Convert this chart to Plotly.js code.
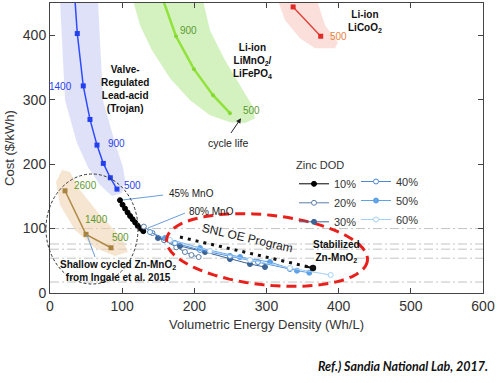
<!DOCTYPE html>
<html>
<head>
<meta charset="utf-8">
<script src="https://cdn.plot.ly/plotly-3.0.1.min.js"></script>
<style>html,body{margin:0;padding:0;background:#fff;}#chart{width:500px;height:383px;}</style>
</head>
<body>
<div id="chart"></div>
<script>
// ---------- data ----------
// Valve-regulated lead-acid (Trojan)
const leadX = [34.6, 37.8, 46.1, 55.4, 65.1, 73.9, 83.6, 92.8];
const leadY = [455, 402.6, 321.4, 269.3, 229.5, 201.1, 178.8, 161.2];
// Li-ion LiMnO2 / LiFePO4
const limnX = [156.6, 174.6, 199.5, 225.9, 249.4];
const limnY = [455, 398.4, 347.3, 307, 279];
// Li-ion LiCoO2
const licoX = [336.9, 375.1];
const licoY = [443.9, 398.4];
// Shallow cycled Zn-MnO2 (Ingale et al. 2015)
const shallowX = [20.8, 49.9, 84.5];
const shallowY = [158.6, 91, 70.2];
// Zinc DOD series
const dodNames = ['10%', '20%', '30%', '40%', '50%', '60%'];
const dod10X = [97, 100.5, 104, 107.5, 111, 114.5, 118, 121.5, 125.5, 129.3];
const dod10Y = [144, 137, 131, 125, 119.5, 114.5, 109.5, 104.5, 100, 96];
const dod20X = [130, 142, 158, 175, 187, 196, 206];
const dod20Y = [103, 93, 82, 71, 63.6, 59, 55.8];
const dod30X = [149.6, 180.1, 214.8, 249.4, 277.1, 297.9];
const dod30Y = [85.3, 72.9, 63.6, 52.7, 45, 40.3];
const dod40X = [138.6, 173.2, 207.8, 249.4, 288.2, 332.5];
const dod40Y = [94.6, 77.5, 66.7, 57.4, 48, 37.2];
const dod50X = [159.3, 207.8, 263.3, 304.8, 342.2, 359.3];
const dod50Y = [85.3, 69.8, 55.8, 48, 34.6, 31.5];
const dod60X = [166.3, 221.7, 277.1, 332.5, 388.9];
const dod60Y = [82.2, 65.1, 51.2, 38.8, 27.9];
// shaded cycle-life bands
const leadBandX = [13.9, 20.8, 37.4, 52.6, 69.3, 85.9, 99.8, 103.9, 101.2, 90.1, 73.4, 66.5];
const leadBandY = [454, 299.2, 232.6, 195.3, 167.4, 150.4, 155, 175.2, 195.3, 232.6, 299.2, 454];
const limnBandX = [115, 124.7, 141.3, 166.3, 194, 221.7, 249.4, 270.2, 284.1, 279.9, 263.3, 242.5, 221.7, 212];
const limnBandY = [454, 415.5, 376.7, 333.3, 299.2, 276, 265.1, 263.6, 271.3, 291.5, 322.5, 361.2, 407.8, 454];
const licoBandX = [315.9, 325.6, 346.4, 367.2, 394.9, 399, 381, 370];
const licoBandY = [454, 423.3, 395.3, 379.8, 379.8, 389.1, 415.5, 454];
const shallowBandX = [16.6, 8.3, 13.9, 34.6, 62.4, 90.1, 108.1, 99.8, 69.3, 41.6, 27.7];
const shallowBandY = [190.7, 172.1, 136.4, 97.7, 69.8, 57.4, 63.6, 85.3, 120.9, 159.7, 187.6];
// reference cost levels (gray dash-dot lines)
const refLevels = [100, 76, 68, 54, 17];
// leader lines
const lead45X = [156.6, 99.8], lead45Y = [151.9, 144.2];
const lead80X = [187.1, 135.8], lead80Y = [124, 100.8];
const leadShX = [62.4, 51.3], leadShY = [55.8, 89.9];
// SNL OE program trend arrow
const trendX = [180.1, 362], trendY = [86.8, 39.5];
// axis ticks
const xTicks = [0, 100, 200, 300, 400, 500, 600];
const yTicks = [0, 100, 200, 300, 400];

// ---------- geometry helpers ----------
const X_RANGE = [0, 600], Y_RANGE = [0, 450];
const M = {l: 50, r: 17, t: 3, b: 90};
const PW = 500 - M.l - M.r, PH = 383 - M.t - M.b;
function pxToData(px, py) {
  return [X_RANGE[0] + (px - M.l) / PW * (X_RANGE[1] - X_RANGE[0]),
          Y_RANGE[0] + (M.t + PH - py) / PH * (Y_RANGE[1] - Y_RANGE[0])];
}
function ellipsePath(cx, cy, a, b, deg) {
  const th = deg * Math.PI / 180; let d = '';
  for (let i = 0; i <= 72; i++) {
    const t = i / 72 * 2 * Math.PI;
    const px = cx + a * Math.cos(t) * Math.cos(th) - b * Math.sin(t) * Math.sin(th);
    const py = cy + a * Math.cos(t) * Math.sin(th) + b * Math.sin(t) * Math.cos(th);
    const p = pxToData(px, py);
    d += (i === 0 ? 'M' : 'L') + p[0].toFixed(2) + ',' + p[1].toFixed(2);
  }
  return d + 'Z';
}

const FONT = 'Liberation Sans, Arial, sans-serif';
const traces = [];
function band(x, y, color) {
  traces.push({x, y, type: 'scatter', mode: 'lines', fill: 'toself', fillcolor: color,
    line: {width: 0}, hoverinfo: 'skip', showlegend: false});
}
band(leadBandX, leadBandY, 'rgba(160,170,235,0.35)');
band(limnBandX, limnBandY, 'rgba(175,232,140,0.55)');
band(licoBandX, licoBandY, 'rgba(245,185,175,0.45)');
band(shallowBandX, shallowBandY, 'rgba(240,212,178,0.6)');

function line(x, y, color, width, opts) {
  traces.push(Object.assign({x, y, type: 'scatter', mode: 'lines', line: {color, width},
    hoverinfo: 'skip', showlegend: false}, opts || {}));
}
line(leadX, leadY, '#2f4bff', 1.5, {mode: 'lines+markers', marker: {symbol: 'square', size: 5, color: '#2340f0'}});
line(limnX, limnY, '#92e23c', 2.5, {mode: 'lines+markers', marker: {symbol: 'circle', size: 4, color: '#86d832'}});
line(licoX, licoY, '#e23a32', 1.3, {mode: 'lines+markers', marker: {symbol: 'square', size: 5, color: '#e02a28'}});
line(shallowX, shallowY, '#b08a48', 1.5, {mode: 'lines+markers', marker: {symbol: 'square', size: 5, color: '#a8843f'}});
line(lead45X, lead45Y, '#6a9ddc', 1);
line(lead80X, lead80Y, '#6a9ddc', 1);
line(leadShX, leadShY, '#6a9ddc', 1);
line(trendX, trendY, '#111', 3, {line: {color: '#111', width: 3, dash: '3px,5px'}});

const dodX = [dod10X, dod20X, dod30X, dod40X, dod50X, dod60X];
const dodY = [dod10Y, dod20Y, dod30Y, dod40Y, dod50Y, dod60Y];
const dodColor = ['#000000', '#5a7ea8', '#3c6494', '#4d8ad6', '#5ea2e8', '#a6cff3'];
const dodOpen = [false, true, false, true, false, true];
dodNames.forEach((n, i) => {
  traces.push({x: dodX[i], y: dodY[i], type: 'scatter', mode: 'lines+markers', name: n,
    line: {color: dodColor[i], width: 1},
    marker: {symbol: 'circle', size: 5, color: dodOpen[i] ? '#ffffff' : dodColor[i],
             line: {color: dodColor[i], width: 1}},
    legend: i < 3 ? 'legend' : 'legend2', hoverinfo: 'skip'});
});

const shapes = refLevels.map(v => ({type: 'line', xref: 'paper', x0: 0, x1: 1, yref: 'y', y0: v, y1: v,
  layer: 'below', line: {color: '#c4c4c4', width: 1, dash: '9px,3px,2px,3px'}}));
shapes.push({type: 'path', xref: 'x', yref: 'y', path: ellipsePath(267, 250, 101, 35, 6),
  line: {color: '#e8201c', width: 3, dash: '10px,6px'}});
shapes.push({type: 'circle', xref: 'paper', yref: 'paper',
  x0: (46 - M.l) / PW, x1: (138 - M.l) / PW, y0: (M.t + PH - 284) / PH, y1: (M.t + PH - 174) / PH,
  line: {color: '#333', width: 1, dash: '3px,2px'}});

function txt(x, y, text, size, color, extra) {
  return Object.assign({x, y, xref: 'x', yref: 'y', text, showarrow: false,
    font: {family: FONT, size, color}}, extra || {});
}
const B = '#111';
const annotations = [
  txt(104.5, 316.3, '<b>Valve-<br>Regulated<br>Lead-acid<br>(Trojan)</b>', 10, B),
  txt(280, 359.7, '<b>Li-ion<br>LiMnO<sub>2</sub>/<br>LiFePO<sub>4</sub></b>', 10, B),
  txt(436.5, 421.7, '<b>Li-ion<br>LiCoO<sub>2</sub></b>', 10, B),
  txt(246.6, 232.6, 'cycle life', 10.5, '#222'),
  txt(15.2, 321, '1400', 10, '#2a3fef'),
  txt(91.5, 232.6, '900', 10, '#2a3fef'),
  txt(115, 167.4, '500', 10, '#2a3fef'),
  txt(192.6, 407.8, '900', 10, '#5f9a30'),
  txt(279.9, 283.7, '500', 10, '#5f9a30'),
  txt(400, 398.4, '500', 10, '#e8843c'),
  txt(48.5, 167.4, '2600', 10, '#5f9a30'),
  txt(65.1, 114.7, '1400', 10, '#5f9a30'),
  txt(97, 86.8, '500', 10, '#5f9a30'),
  txt(162.1, 154.5, '45% MnO', 10, '#222', {xanchor: 'left'}),
  txt(189.8, 127.1, '80% MnO', 10, '#222', {xanchor: 'left'}),
  txt(273, 85.3, 'SNL OE Program', 12, '#222', {textangle: 13}),
  txt(396.3, 65.1, '<b>Stabilized<br>Zn-MnO<sub>2</sub></b>', 10, B),
  txt(94.9, 34.9, '<b>Shallow cycled Zn-MnO<sub>2</sub><br>from Ingale et al. 2015</b>', 10, B),
  // arrows
  {x: 264.7, y: 271.3, xref: 'x', yref: 'y', ax: 249.4, ay: 246, axref: 'x', ayref: 'y', text: '',
   showarrow: true, arrowhead: 2, arrowsize: 1, arrowwidth: 1, arrowcolor: '#222'},
  {x: 364.4, y: 38.8, xref: 'x', yref: 'y', ax: 352, ay: 41.5, axref: 'x', ayref: 'y', text: '',
   showarrow: true, arrowhead: 6, arrowsize: 0.8, arrowwidth: 2, arrowcolor: '#111'},
  {x: 1.016, y: -0.255, xref: 'paper', yref: 'paper', xanchor: 'right', yanchor: 'middle', showarrow: false,
   text: '<b><i>Ref.) Sandia National Lab, 2017.</i></b>', font: {family: 'Lato, Liberation Sans, sans-serif', size: 12.5, color: '#111'}}
];

const axisCommon = {showline: true, linecolor: '#444', linewidth: 1, mirror: 'ticks', ticks: 'inside',
  ticklen: 5, tickcolor: '#444', showgrid: false, zeroline: false,
  tickfont: {family: FONT, size: 14, color: '#333'}};

const layout = {
  width: 500, height: 383, margin: M, paper_bgcolor: '#fff', plot_bgcolor: '#fff',
  font: {family: FONT, color: '#333'},
  xaxis: Object.assign({}, axisCommon, {range: X_RANGE, tickvals: xTicks,
    title: {text: 'Volumetric Energy Density (Wh/L)', font: {family: FONT, size: 13, color: '#333'}, standoff: 7}}),
  yaxis: Object.assign({}, axisCommon, {range: Y_RANGE, tickvals: yTicks,
    title: {text: 'Cost ($/kWh)', font: {family: FONT, size: 13, color: '#333'}, standoff: 5}}),
  showlegend: true,
  legend: {x: (294 - M.l) / PW, y: (M.t + PH - 155) / PH, xanchor: 'left', yanchor: 'top',
    bgcolor: 'rgba(0,0,0,0)', font: {family: FONT, size: 11, color: '#333'},
    title: {text: 'Zinc DOD', font: {family: FONT, size: 11, color: '#333'}},
    itemwidth: 30, tracegroupgap: 0},
  legend2: {x: (356 - M.l) / PW, y: (M.t + PH - 167) / PH, xanchor: 'left', yanchor: 'top',
    bgcolor: 'rgba(0,0,0,0)', font: {family: FONT, size: 11, color: '#333'},
    itemwidth: 30, tracegroupgap: 0},
  shapes, annotations
};

Plotly.newPlot('chart', traces, layout, {staticPlot: true, displayModeBar: false});
</script>
</body>
</html>
